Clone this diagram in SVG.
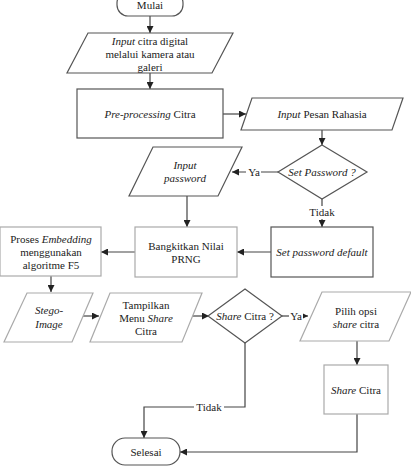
<svg xmlns="http://www.w3.org/2000/svg" width="411" height="471" viewBox="0 0 411 471" font-family="'Liberation Serif', 'DejaVu Serif', serif">
<style>
text{font-family:'Liberation Serif','DejaVu Serif',serif;font-size:11px;fill:#222;text-anchor:middle;dominant-baseline:central}
.i{font-style:italic}
.s{fill:#fff;stroke:#555;stroke-width:1.2}
.l{fill:#fff;stroke:#aaa;stroke-width:1.2}
.c{fill:none;stroke:#444;stroke-width:1.2}
.lb{fill:#fff}
</style>
<defs>
<marker id="a" viewBox="0 0 8 8" refX="8" refY="4" markerWidth="7" markerHeight="7" markerUnits="userSpaceOnUse" orient="auto"><path d="M0,0L8,4L0,8z" fill="#222"/></marker>
</defs>
<rect width="411" height="471" fill="#fff"/>
<g id="connectors">
<path class="c" d="M150,16V33" marker-end="url(#a)"/>
<path class="c" d="M150,73V89" marker-end="url(#a)"/>
<path class="c" d="M223,114H246" marker-end="url(#a)"/>
<path class="c" d="M322,130V145" marker-end="url(#a)"/>
<path class="c" d="M278,172H232" marker-end="url(#a)"/>
<path class="c" d="M187,196V227" marker-end="url(#a)"/>
<path class="c" d="M322,199V227" marker-end="url(#a)"/>
<path class="c" d="M271,252H237" marker-end="url(#a)"/>
<path class="c" d="M135,252H101" marker-end="url(#a)"/>
<path class="c" d="M51,276V292" marker-end="url(#a)"/>
<path class="c" d="M82,316H99" marker-end="url(#a)"/>
<path class="c" d="M190,316H209" marker-end="url(#a)"/>
<path class="c" d="M282,316H308" marker-end="url(#a)"/>
<path class="c" d="M357,341V365" marker-end="url(#a)"/>
<path class="c" d="M357,414V452H180" marker-end="url(#a)"/>
<path class="c" d="M245,343V407H144V438" marker-end="url(#a)"/>
<rect class="lb" x="246" y="166" width="15" height="12"/>
<text x="254" y="172">Ya</text>
<rect class="lb" x="306" y="206" width="32" height="13"/>
<text x="322" y="212">Tidak</text>
<rect class="lb" x="289" y="310" width="14" height="12"/>
<text x="296" y="316">Ya</text>
<rect class="lb" x="194" y="401" width="30" height="13"/>
<text x="209" y="407">Tidak</text>
</g>
<g id="mulai">
<rect class="s" x="117" y="-8" width="66" height="24" rx="11"/>
<text x="150" y="5">Mulai</text>
</g>
<g id="input-citra">
<polygon class="s" points="88,33 233,33 212,73 67,73"/>
<text x="150" y="41"><tspan class="i">Input</tspan> citra digital</text>
<text x="150" y="54">melalui kamera atau</text>
<text x="150" y="67">galeri</text>
</g>
<g id="preprocessing">
<rect class="s" x="77" y="89" width="146" height="49"/>
<text x="150" y="114"><tspan class="i">Pre-processing</tspan> Citra</text>
</g>
<g id="input-pesan">
<polygon class="s" points="252,98 403,98 392,130 241,130"/>
<text x="322" y="114"><tspan class="i">Input</tspan> Pesan Rahasia</text>
</g>
<g id="set-password">
<polygon class="s" points="322,145 367,172 322,199 278,172"/>
<text class="i" x="322" y="172">Set Password ?</text>
</g>
<g id="input-password">
<polygon class="s" points="153,147 242,147 218,196 129,196"/>
<text class="i" x="185" y="165">Input</text>
<text class="i" x="185" y="178">password</text>
</g>
<g id="set-default">
<rect class="s" x="271" y="227" width="102" height="50"/>
<text class="i" x="322" y="252">Set password default</text>
</g>
<g id="prng">
<rect class="l" x="135" y="227" width="102" height="50"/>
<text x="186" y="246">Bangkitkan Nilai</text>
<text x="186" y="259">PRNG</text>
</g>
<g id="embedding">
<rect class="l" x="0" y="227" width="101" height="49"/>
<text x="51" y="239">Proses <tspan class="i">Embedding</tspan></text>
<text x="51" y="252">menggunakan</text>
<text x="51" y="265">algoritme F5</text>
</g>
<g id="stego">
<polygon class="l" points="27,293 93,293 72,342 4,342"/>
<text class="i" x="49" y="310">Stego-</text>
<text class="i" x="49" y="324">Image</text>
</g>
<g id="tampilkan">
<polygon class="l" points="110,293 202,293 182,342 90,342"/>
<text x="146" y="305">Tampilkan</text>
<text x="146" y="318">Menu <tspan class="i">Share</tspan></text>
<text x="146" y="331">Citra</text>
</g>
<g id="share-q">
<polygon class="s" points="245,289 282,316 245,343 208,316"/>
<text x="245" y="316"><tspan class="i">Share</tspan> Citra ?</text>
</g>
<g id="pilih">
<polygon class="l" points="322,292 411,292 389,341 300,341"/>
<text x="356" y="311">Pilih opsi</text>
<text x="356" y="324"><tspan class="i">share</tspan> citra</text>
</g>
<g id="share-citra">
<rect class="l" x="324" y="365" width="64" height="49"/>
<text x="356" y="390"><tspan class="i">Share</tspan> Citra</text>
</g>
<g id="selesai">
<rect class="s" x="112" y="438" width="68" height="27" rx="13"/>
<text x="146" y="452">Selesai</text>
</g>
</svg>
